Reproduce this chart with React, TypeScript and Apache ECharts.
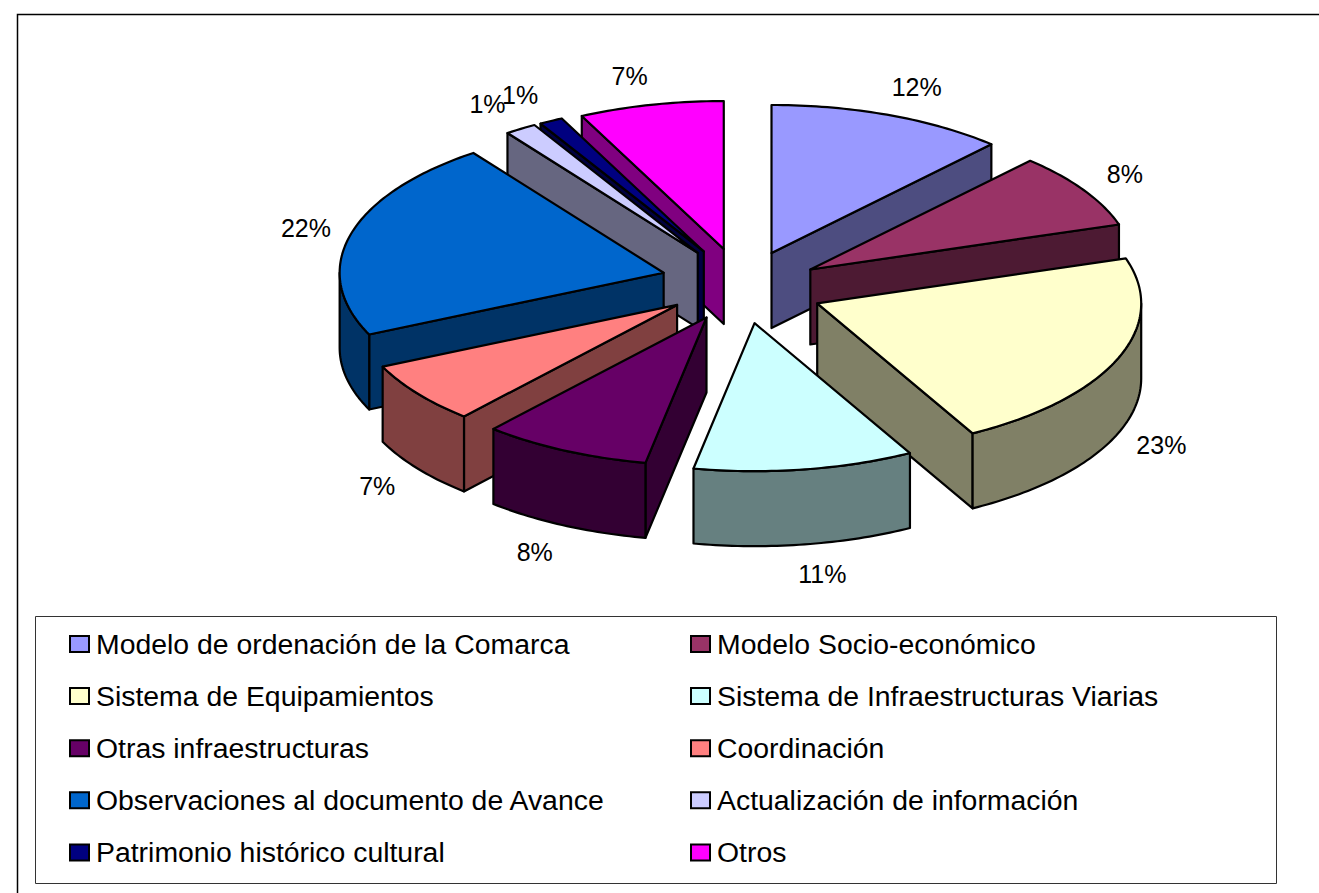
import React, { useEffect, useRef } from "react";
import * as echarts from "echarts";

const categories = [
  "Modelo de ordenación de la Comarca",
  "Modelo Socio-económico",
  "Sistema de Equipamientos",
  "Sistema de Infraestructuras Viarias",
  "Otras infraestructuras",
  "Coordinación",
  "Observaciones al documento de Avance",
  "Actualización de información",
  "Patrimonio histórico cultural",
  "Otros",
];
// Printed percentage of each slice
const percentLabels = [12, 8, 23, 11, 8, 7, 22, 1, 1, 7];
// Share of the drawn circle of each slice
const sliceShares = [12, 8.3, 22.2, 11.1, 8.5, 6.8, 22.1, 1.6, 1.2, 7.3];
const topColors = ["#9999FF", "#993366", "#FFFFCC", "#CCFFFF", "#660066", "#FF8080", "#0066CC", "#CCCCFF", "#000080", "#FF00FF"];
const wallColors = ["#4D4D80", "#4D1A33", "#808066", "#668080", "#330033", "#804040", "#003366", "#666680", "#000040", "#800080"];

const CX = 742, CY = 286, RX = 324, RY = 148, DEPTH = 75, EXPLODE = 0.25, TILT = 4;
const rad = (d: number) => (d * Math.PI) / 180;
const total = sliceShares.reduce((a, b) => a + b, 0);
const starts: number[] = [];
sliceShares.reduce((acc, v, i) => { starts[i] = acc; return acc + (v / total) * 360; }, 0);

function renderSlice(_params: any, api: any) {
  const a0 = api.value(0) as number, a1 = api.value(1) as number, pct = api.value(2) as number;
  const idx = api.value(3) as number;
  const mid = (a0 + a1) / 2;
  const sinM = Math.sin(rad(mid)), cosM = Math.cos(rad(mid));
  const ax = CX + EXPLODE * RX * sinM;
  const ay = CY - EXPLODE * RY * cosM + TILT * sinM;
  const pt = (deg: number, down = 0): number[] => [ax + RX * Math.sin(rad(deg)), ay - RY * Math.cos(rad(deg)) + down];
  const arc = (from: number, to: number, down = 0) => {
    const out: number[][] = [];
    const n = Math.max(2, Math.ceil(Math.abs(to - from)));
    for (let i = 0; i <= n; i++) out.push(pt(from + ((to - from) * i) / n, down));
    return out;
  };
  const line = { stroke: "#000", lineWidth: 2.2, lineJoin: "round" };
  const children: any[] = [];
  const wallStyle = { ...line, fill: wallColors[idx] };
  if (a0 > 180) children.push({ type: "polygon", z2: 1, shape: { points: [[ax, ay], pt(a0), pt(a0, DEPTH), [ax, ay + DEPTH]] }, style: wallStyle });
  if (a1 < 180) children.push({ type: "polygon", z2: 1, shape: { points: [[ax, ay], pt(a1), pt(a1, DEPTH), [ax, ay + DEPTH]] }, style: wallStyle });
  const f0 = Math.max(a0, 90), f1 = Math.min(a1, 270);
  if (f1 > f0) children.push({ type: "polygon", z2: 2, shape: { points: [...arc(f0, f1), ...arc(f1, f0, DEPTH)] }, style: wallStyle });
  children.push({ type: "polygon", z2: 3, shape: { points: [[ax, ay], ...arc(a0, a1)] }, style: { ...line, fill: topColors[idx] } });

  const edge = pt(mid);
  const front = cosM < 0 ? DEPTH : 0;
  children.push({
    type: "text", z2: 4,
    x: edge[0] + 45 * Math.sign(sinM) * Math.sqrt(Math.abs(sinM)),
    y: edge[1] - 30 * cosM + front,
    style: { text: pct + "%", fill: "#000", fontFamily: "Liberation Sans", fontSize: 25, align: "center", verticalAlign: "middle" },
  });
  return { type: "group", children };
}

export default function App() {
  const ref = useRef<HTMLDivElement>(null);
  useEffect(() => {
    document.body.style.margin = "0";
    const chart = echarts.init(ref.current!, undefined, { renderer: "svg" });
    const depthOrder = categories
      .map((_, i) => i)
      .sort((p, q) => Math.cos(rad(starts[q] + (sliceShares[q] / total) * 180)) - Math.cos(rad(starts[p] + (sliceShares[p] / total) * 180)));
    const legendBase = {
      orient: "vertical", top: 625, itemWidth: 19, itemHeight: 16, itemGap: 24.1, icon: "rect",
      itemStyle: { borderColor: "#000", borderWidth: 2 },
      textStyle: { fontFamily: "Liberation Sans", fontSize: 28.4, color: "#000", padding: [0, 0, 0, 2] },
      selectedMode: false,
    };
    chart.setOption({
      animation: false,
      backgroundColor: "#fff",
      graphic: [
        { type: "polyline", silent: true, shape: { points: [[1319, 14.5], [17.5, 14.5], [17.5, 893]] }, style: { stroke: "#000", lineWidth: 1.5, fill: "none" } },
        { type: "rect", silent: true, shape: { x: 35.5, y: 616.5, width: 1241, height: 267 }, style: { stroke: "#333", lineWidth: 1, fill: "none" } },
      ],
      legend: [
        { ...legendBase, left: 64, data: categories.filter((_, i) => i % 2 === 0) },
        { ...legendBase, left: 685, data: categories.filter((_, i) => i % 2 === 1) },
      ],
      series: categories.map((name, i) => ({
        type: "custom",
        name,
        coordinateSystem: "none",
        z: 2 + depthOrder.indexOf(i),
        itemStyle: { color: topColors[i] },
        renderItem: renderSlice,
        data: [[starts[i], starts[i] + (sliceShares[i] / total) * 360, percentLabels[i], i]],
      })),
    });
    return () => chart.dispose();
  }, []);
  return <div ref={ref} style={{ width: 1319, height: 893 }} />;
}
